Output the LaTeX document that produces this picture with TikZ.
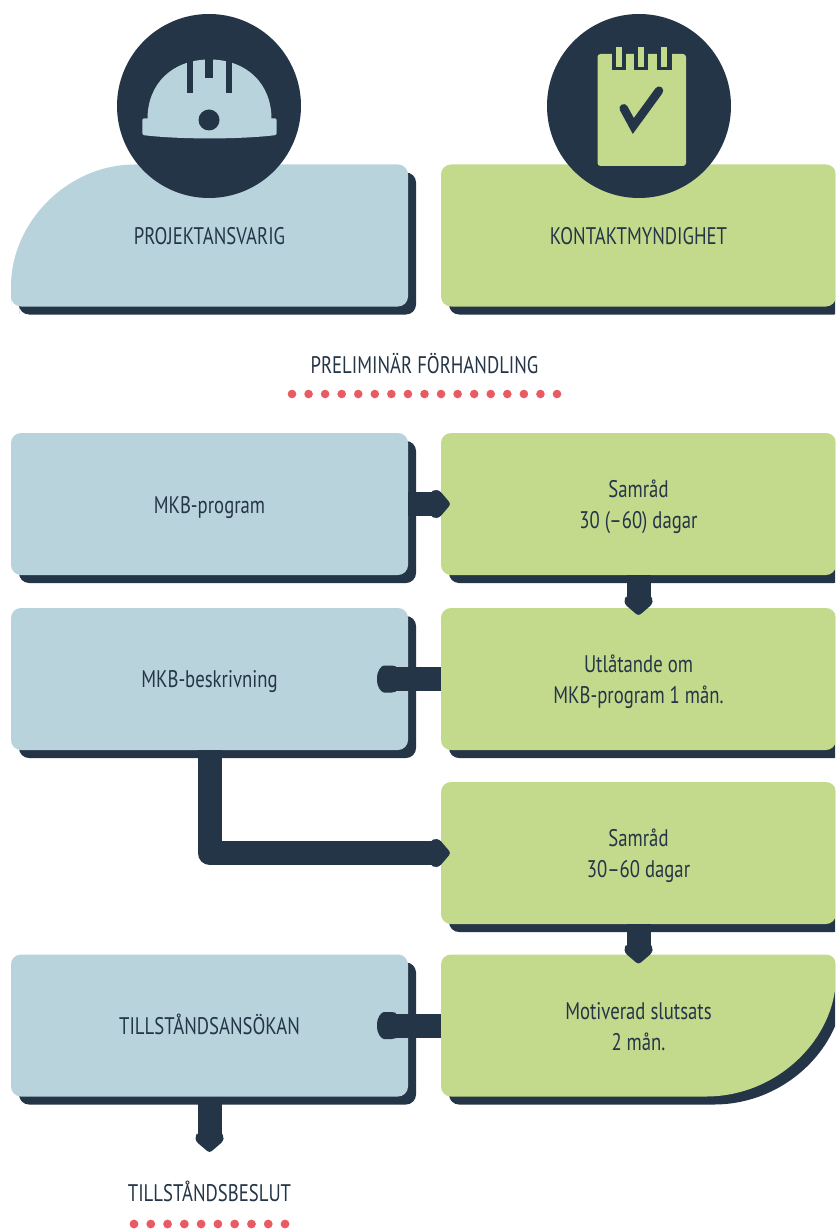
\documentclass[tikz,border=0pt]{standalone}
\usepackage{fontspec}
\setmainfont{PT Sans}[FakeStretch=0.78]
\usetikzlibrary{calc,shadows}
\definecolor{navy}{HTML}{243547}
\definecolor{paleblue}{HTML}{B9D3DC}
\definecolor{leaf}{HTML}{C3D98C}
\definecolor{dotred}{HTML}{E95A62}
\newcommand\twolines[2]{\begin{tabular}[t]{@{}c@{}}#1\\#2\end{tabular}}
\tikzset{
  cell/.style={rectangle, minimum height=142pt, inner sep=0pt, outer sep=0pt},
  lcell/.style={cell, minimum width=397pt},
  rcell/.style={cell, minimum width=395pt},
  dshadow/.style={drop shadow={shadow xshift=8pt, shadow yshift=-8pt, fill=navy, opacity=1}},
  pcell/.style={lcell, fill=paleblue, rounded corners=10pt, dshadow},
  gcell/.style={rcell, fill=leaf, rounded corners=10pt, dshadow},
  lbl/.style={text=navy, font=\fontsize{24}{31}\selectfont, inner sep=0pt, anchor=base},
  shaft/.style={draw=navy, line width=24pt},
  headpt/.pic={\fill[navy, rounded corners=3pt] (-20,-12) -- (-17,-14) -- (-12,-14) -- (0,0) -- (-12,14) -- (-17,14) -- (-20,12) -- cycle;},
  headrd/.pic={\fill[navy, rounded corners=2pt] (-20,-12) -- (-17,-13.5) -- (-9,-13.5) .. controls (-4,-13.5) and (0,-7) .. (0,0) .. controls (0,7) and (-4,13.5) .. (-9,13.5) -- (-17,13.5) -- (-20,12) -- cycle;},
}
\begin{document}
\begin{tikzpicture}[x=1pt,y=-1pt]
\useasboundingbox (0,0) rectangle (835,1230);
\clip (0,0) rectangle (835,1230);
\fill[white] (0,0) rectangle (835,1230);

% ---- header boxes
\path[fill=navy, rounded corners=10pt, shift={(8,8)}] (135,164.5) -- (408,164.5) -- (408,306.5) -- (11,306.5) -- (11,296) .. controls (11,223.4) and (66.5,164.5) .. (135,164.5);
\path[fill=paleblue, rounded corners=10pt] (135,164.5) -- (408,164.5) -- (408,306.5) -- (11,306.5) -- (11,296) .. controls (11,223.4) and (66.5,164.5) .. (135,164.5);
\node[lcell] (proj) at (209.5,235.5) {};
\node[gcell] (kontakt) at (638.5,235.5) {};

% ---- icon circles
\fill[navy] (209,106) circle (92pt);
\fill[navy] (639,106) circle (92pt);

% helmet
\fill[paleblue] (147.5,119) .. controls (147.5,83.6) and (172.3,59.5) .. (209.5,59.5) .. controls (246.7,59.5) and (271.5,83.6) .. (271.5,119) -- cycle;
\fill[paleblue, rounded corners=1.5pt] (142.3,118.3) -- (276.7,118.3) -- (276.7,135) .. controls (240,139.5) and (179,139.5) .. (142.3,135) -- cycle;
\fill[navy] (186.5,50) rectangle (193,93);
\fill[navy] (205.3,50) rectangle (213.3,78);
\fill[navy] (225.5,50) rectangle (232,93);
\fill[navy] (209,120) circle (10.5pt);

% notepad
\fill[leaf, rounded corners=3pt] (597.5,54) rectangle (686,166);
\foreach \c in {619,641.2,664.3} {
  \fill[navy] (\c-7.2,50) rectangle (\c+7.2,70);
  \fill[leaf] (\c-2.9,47.3) rectangle (\c+2.9,66.7);
}
\draw[navy, line width=8.5pt, line cap=round] (623.7,108.3) -- (633.3,126) -- (659,90.7);

\node[lbl] (projtxt) at (209.5,245) {PROJEKTANSVARIG};
\node[lbl] (konttxt) at (638.5,245) {KONTAKTMYNDIGHET};

% ---- preliminary
\node[lbl] (prelim) at (424.5,373) {PRELIMINÄR FÖRHANDLING};
\foreach \i in {0,...,16} \fill[dotred] ({292+\i*16.5625},394) circle (4.3pt);

% ---- rows
\node[pcell] (mkbp) at (209.5,504) {};
\node[gcell] (samr1) at (638.5,504) {};
\node[pcell] (mkbb) at (209.5,679) {};
\node[gcell] (utl) at (638.5,679) {};
\node[gcell] (samr2) at (638.5,853) {};
\node[pcell] (tillans) at (209.5,1025.5) {};
\path[fill=navy, rounded corners=10pt, shift={(8,8)}] (706,1096.5) -- (441,1096.5) -- (441,954.5) -- (836,954.5) -- (836,966) .. controls (836,1038.1) and (777.8,1096.5) .. (706,1096.5);
\path[fill=leaf, rounded corners=10pt] (706,1096.5) -- (441,1096.5) -- (441,954.5) -- (836,954.5) -- (836,966) .. controls (836,1038.1) and (777.8,1096.5) .. (706,1096.5);
\node[rcell] (motiv) at (638.5,1025.5) {};

% ---- connectors
\draw[shaft] (mkbp.east) -- ($(samr1.west)+(-6,0)$);
\pic at ($(samr1.west)+(10,0)$) {headpt};
\draw[shaft] (samr1.south) -- ($(utl.north)+(0,-6)$);
\pic[rotate=-90] at ($(utl.north)+(0,8)$) {headpt};
\draw[shaft] (utl.west) -- ($(mkbb.east)+(-17,0)$);
\pic[rotate=180] at ($(mkbb.east)+(-31,0)$) {headrd};
\draw[shaft, line join=round] (mkbb.south) |- ($(samr2.west)+(-6,0)$);
\pic at ($(samr2.west)+(10,0)$) {headpt};
\draw[shaft] (samr2.south) -- ($(motiv.north)+(0,-6)$);
\pic[rotate=-90] at ($(motiv.north)+(0,10)$) {headpt};
\draw[shaft] (motiv.west) -- ($(tillans.east)+(-17,0)$);
\pic[rotate=180] at ($(tillans.east)+(-31,0)$) {headrd};
\coordinate (besluttip) at (209.5,1153);
\draw[shaft] (tillans.south) -- ($(besluttip)+(0,-16)$);
\pic[rotate=-90] at (besluttip) {headpt};

% ---- labels
\node[lbl] (tmkbp) at (209.5,513) {MKB-program};
\node[lbl] (tsamr1) at (638.5,497) {\twolines{Samråd}{30 (–60) dagar}};
\node[lbl] (tmkbb) at (209.5,687.5) {MKB-beskrivning};
\node[lbl] (tutl) at (638.5,672) {\twolines{Utlåtande om}{MKB-program 1 mån.}};
\node[lbl] (tsamr2) at (638.5,846) {\twolines{Samråd}{30–60 dagar}};
\node[lbl] (ttill) at (209.5,1034) {TILLSTÅNDSANSÖKAN};
\node[lbl] (tmotiv) at (638.5,1019) {\twolines{Motiverad slutsats}{2 mån.}};

\node[lbl] (beslut) at (209.5,1201.7) {TILLSTÅNDSBESLUT};
\foreach \i in {0,...,9} \fill[dotred] ({134+\i*16.78},1224) circle (4.4pt);
\end{tikzpicture}
\end{document}
